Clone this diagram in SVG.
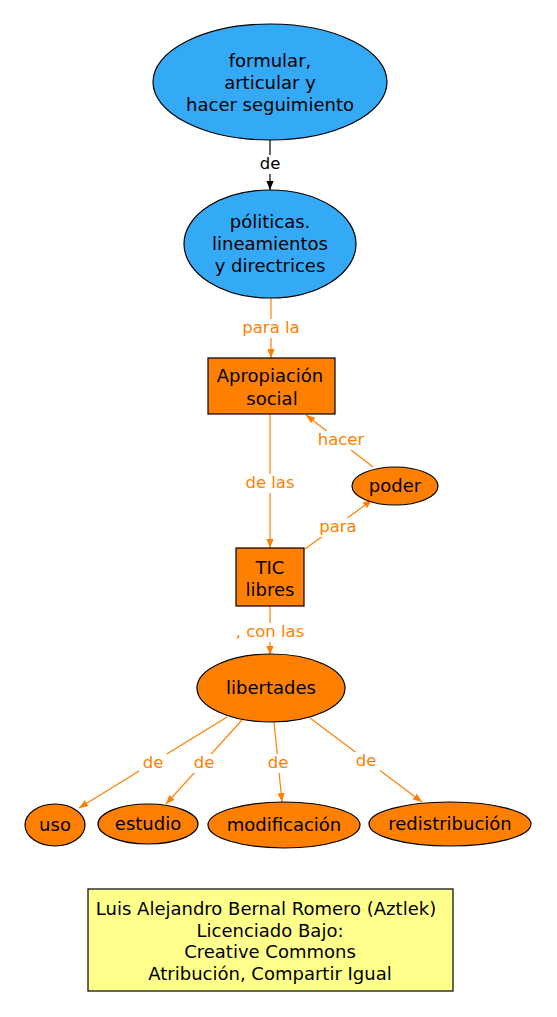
<svg xmlns="http://www.w3.org/2000/svg" width="557" height="1017" viewBox="0 0 557 1017">
<defs>
<style>
text{font-family:"DejaVu Sans",sans-serif;font-size:18px;text-anchor:middle}
.n{stroke:#000;stroke-width:1.2}
.b{fill:#34a9f5}
.o{fill:#ff8000}
.e{stroke:#ff8000;stroke-width:1.2;fill:none}
.lbl{fill:#ff8000;font-size:16.5px}
.lb{font-size:16.5px}
</style>
<marker id="ao" viewBox="0 0 10 10" refX="10" refY="5" markerWidth="9" markerHeight="9" markerUnits="userSpaceOnUse" orient="auto"><path d="M0,1 L10,5 L0,9 z" fill="#ff8000"/></marker>
<marker id="ab" viewBox="0 0 10 10" refX="10" refY="5" markerWidth="9" markerHeight="9" markerUnits="userSpaceOnUse" orient="auto"><path d="M0,1 L10,5 L0,9 z" fill="#000"/></marker>
</defs>
<rect width="557" height="1017" fill="#fff"/>
<g id="connectors">
<line x1="270" y1="140" x2="270" y2="190" stroke="#000" stroke-width="1.2" marker-end="url(#ab)"/>
<rect x="256" y="155" width="28" height="19" fill="#fff"/>
<text class="lb" x="270" y="169">de</text>
<line class="e" x1="271" y1="298" x2="271" y2="358" marker-end="url(#ao)"/>
<rect x="238" y="319" width="66" height="19" fill="#fff"/>
<text class="lbl" x="271" y="333">para la</text>
<line class="e" x1="270" y1="414" x2="270" y2="548" marker-end="url(#ao)"/>
<rect x="242" y="474" width="58" height="19" fill="#fff"/>
<text class="lbl" x="270" y="488">de las</text>
<line class="e" x1="305" y1="549" x2="372" y2="500" marker-end="url(#ao)"/>
<rect x="316" y="518" width="44" height="19" fill="#fff"/>
<text class="lbl" x="338" y="532">para</text>
<line class="e" x1="373" y1="467" x2="306" y2="415" marker-end="url(#ao)"/>
<rect x="314" y="431" width="54" height="19" fill="#fff"/>
<text class="lbl" x="341" y="445">hacer</text>
<line class="e" x1="270" y1="606" x2="270" y2="655" marker-end="url(#ao)"/>
<rect x="232" y="623" width="76" height="19" fill="#fff"/>
<text class="lbl" x="270" y="637">, con las</text>
<line class="e" x1="227" y1="717" x2="79" y2="808" marker-end="url(#ao)"/>
<rect x="139" y="754" width="28" height="19" fill="#fff"/>
<text class="lbl" x="153" y="768">de</text>
<line class="e" x1="242" y1="720" x2="166" y2="804" marker-end="url(#ao)"/>
<rect x="190" y="754" width="28" height="19" fill="#fff"/>
<text class="lbl" x="204" y="768">de</text>
<line class="e" x1="274" y1="722" x2="282" y2="802" marker-end="url(#ao)"/>
<rect x="264" y="754" width="28" height="19" fill="#fff"/>
<text class="lbl" x="278" y="768">de</text>
<line class="e" x1="310" y1="718" x2="422" y2="802" marker-end="url(#ao)"/>
<rect x="352" y="752" width="28" height="19" fill="#fff"/>
<text class="lbl" x="366" y="766">de</text>
</g>
<g id="formular">
<ellipse class="n b" cx="270" cy="82" rx="117" ry="58"/>
<text x="270" y="67">formular,</text>
<text x="270" y="89">articular y</text>
<text x="270" y="111">hacer seguimiento</text>
</g>
<g id="politicas">
<ellipse class="n b" cx="270" cy="244" rx="86" ry="54"/>
<text x="270" y="228">póliticas.</text>
<text x="270" y="250">lineamientos</text>
<text x="270" y="272">y directrices</text>
</g>
<g id="apropiacion">
<rect class="n o" x="208" y="358" width="127" height="56"/>
<text x="270" y="382">Apropiación</text>
<text x="272" y="405">social</text>
</g>
<g id="poder">
<ellipse class="n o" cx="395" cy="486" rx="43" ry="19"/>
<text x="395" y="492">poder</text>
</g>
<g id="tic">
<rect class="n o" x="236" y="548" width="68" height="58"/>
<text x="270" y="574">TIC</text>
<text x="270" y="596">libres</text>
</g>
<g id="libertades">
<ellipse class="n o" cx="271" cy="688" rx="74" ry="34"/>
<text x="271" y="694">libertades</text>
</g>
<g id="uso">
<ellipse class="n o" cx="55" cy="825" rx="30" ry="21"/>
<text x="55" y="831">uso</text>
</g>
<g id="estudio">
<ellipse class="n o" cx="148" cy="824" rx="50" ry="20"/>
<text x="148" y="830">estudio</text>
</g>
<g id="modificacion">
<ellipse class="n o" cx="284" cy="825" rx="76" ry="23"/>
<text x="284" y="831">modificación</text>
</g>
<g id="redistribucion">
<ellipse class="n o" cx="450" cy="824" rx="81" ry="22"/>
<text x="450" y="830">redistribución</text>
</g>
<g id="licencia">
<rect class="n" x="88" y="889" width="365" height="102" fill="#ffff8c"/>
<text x="266" y="915">Luis Alejandro Bernal Romero (Aztlek)</text>
<text x="270" y="937">Licenciado Bajo:</text>
<text x="270" y="958">Creative Commons</text>
<text x="270" y="980">Atribución, Compartir Igual</text>
</g>
</svg>
